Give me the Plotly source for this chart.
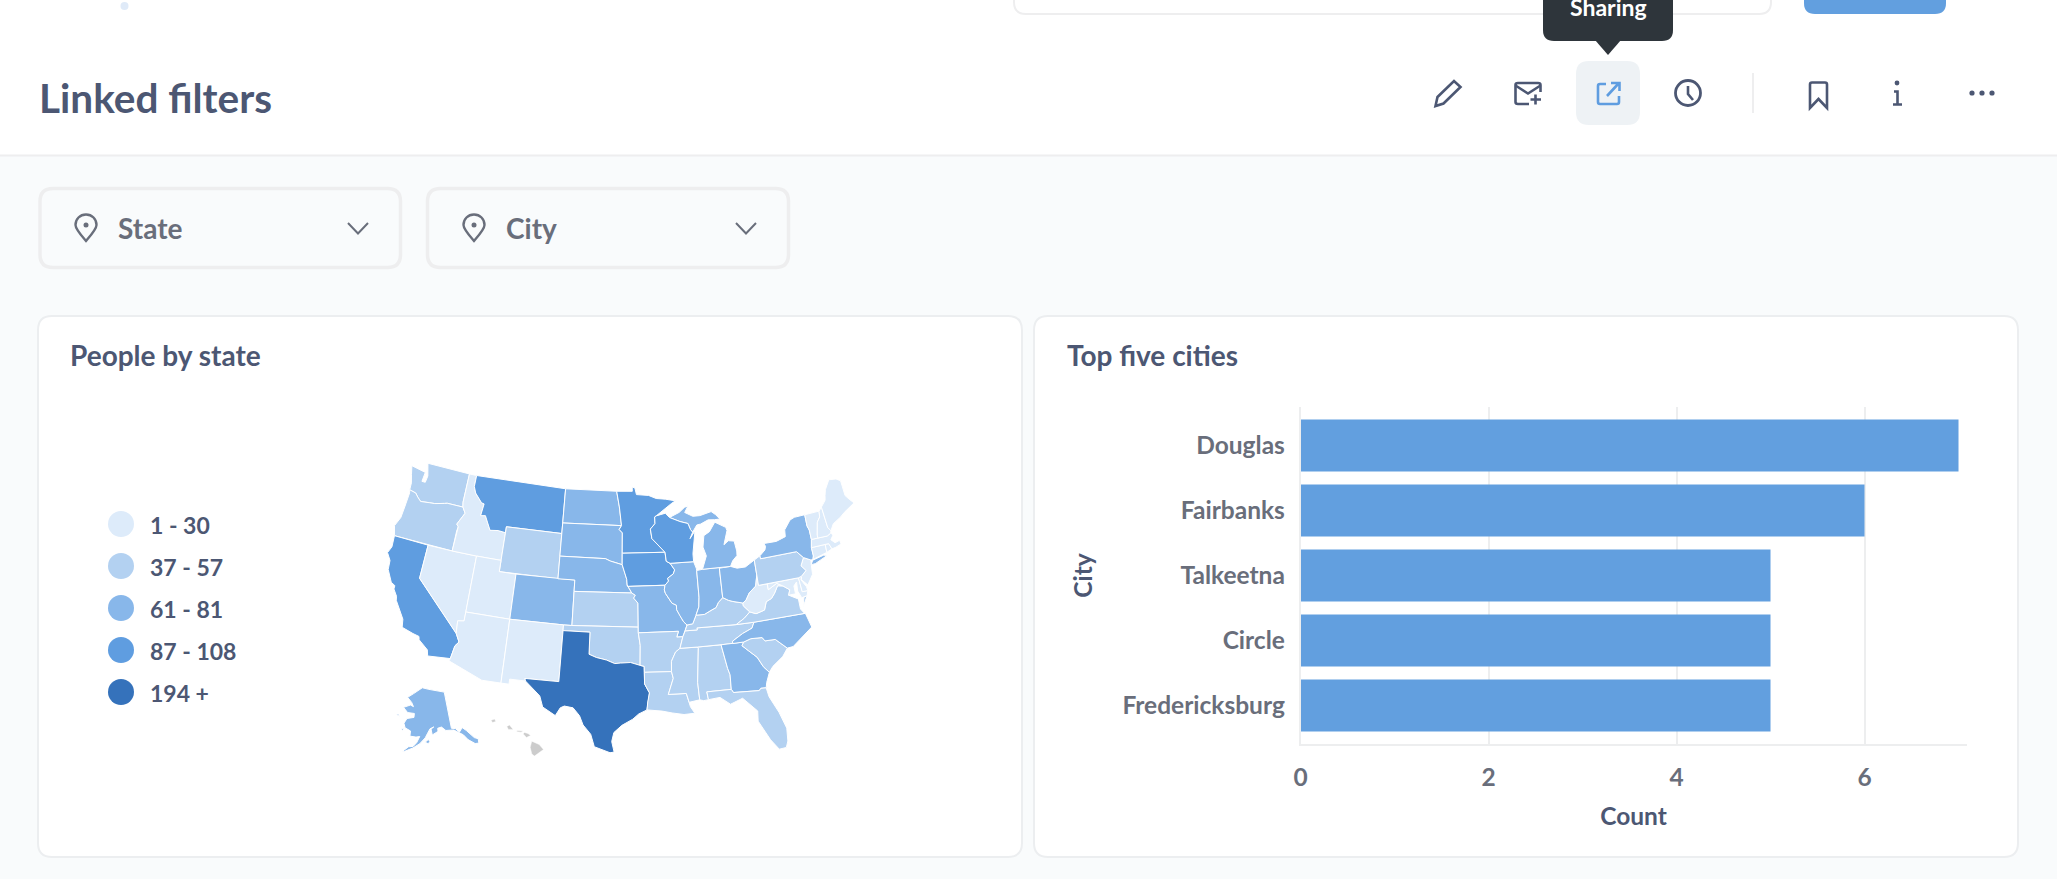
import math
import plotly.graph_objects as go

# ---------- data ----------
CITIES = ["Douglas", "Fairbanks", "Talkeetna", "Circle", "Fredericksburg"]
CITY_COUNTS = [7, 6, 5, 5, 5]
COUNT_TICKS = [0, 2, 4, 6]

LEGEND_LABELS = ["1 - 30", "37 - 57", "61 - 81", "87 - 108", "194 +"]
BIN_UPPER = [30, 57, 81, 108, 100000]
BIN_COLORS = ["#DDEBFA", "#B3D1F1", "#88B7EA", "#5F9DE0", "#3572BB"]
NO_DATA = "#CCCCCC"

STATE_CODES = ["AK","AL","AR","AZ","CA","CO","CT","DE","FL","GA","IA","ID","IL","IN","KS","KY","LA","MA","MD","ME",
               "MI","MN","MO","MS","MT","NC","ND","NE","NH","NJ","NM","NV","NY","OH","OK","OR","PA","RI","SC","SD",
               "TN","TX","UT","VA","VT","WA","WI","WV","WY"]
STATE_PEOPLE = [68,52,45,18,108,71,12,9,54,66,92,21,74,62,47,50,44,28,26,15,
                79,95,76,41,87,70,64,72,14,24,22,19,81,73,49,53,57,8,39,61,
                56,194,23,48,11,43,90,17,37]

S = {
"WA":[[(-124.7,48.38),(-123.1,48.15),(-122.75,48.15),(-122.85,47.3),(-122.4,47.3),(-122.3,47.9),(-122.75,49),(-117.03,49),(-117.04,46.42),(-116.92,45.99),(-118.98,46),(-119.3,45.93),(-120.5,45.7),(-121.2,45.65),(-122.3,45.55),(-122.8,45.85),(-123.2,46.15),(-124.05,46.27),(-124.1,46.9),(-124.4,47.6)]],
"OR":[[(-124.05,46.27),(-123.2,46.15),(-122.8,45.85),(-122.3,45.55),(-121.2,45.65),(-120.5,45.7),(-119.3,45.93),(-118.98,46),(-116.92,45.99),(-116.48,45.5),(-116.85,44.95),(-117.2,44.4),(-116.95,44.2),(-117.03,43.8),(-117.03,42),(-124.2,42),(-124.55,42.85),(-124.1,43.7),(-124,45),(-123.95,46)]],
"CA":[[(-124.2,42),(-120,42),(-120,39),(-114.63,35),(-114.15,34.3),(-114.5,33.9),(-114.72,32.72),(-117.12,32.53),(-117.3,33.05),(-118.4,33.75),(-118.5,34.03),(-119.2,34.15),(-120.5,34.45),(-120.65,35.15),(-121.9,36.6),(-122,36.95),(-122.5,37.5),(-122.5,37.8),(-123,38),(-123.75,39),(-123.85,39.8),(-124.4,40.4),(-124.1,41)]],
"NV":[[(-120,42),(-117.03,42),(-114.04,42),(-114.04,37),(-114.04,36.2),(-114.74,36.1),(-114.63,35),(-120,39)]],
"ID":[[(-117.03,49),(-116.05,49),(-116.05,48),(-115.7,47.45),(-114.7,46.7),(-114.35,46.65),(-114.5,45.57),(-113.9,45.65),(-113.45,45.05),(-113,44.45),(-112,44.55),(-111.05,44.47),(-111.05,42),(-114.04,42),(-117.03,42),(-117.03,43.8),(-116.95,44.2),(-117.2,44.4),(-116.85,44.95),(-116.48,45.5),(-116.92,45.99),(-117.04,46.42)]],
"MT":[[(-116.05,49),(-104.05,49),(-104.05,45.94),(-104.05,45),(-111.05,45),(-111.05,44.47),(-112,44.55),(-113,44.45),(-113.45,45.05),(-113.9,45.65),(-114.5,45.57),(-114.35,46.65),(-114.7,46.7),(-115.7,47.45),(-116.05,48)]],
"WY":[[(-111.05,45),(-104.05,45),(-104.05,43),(-104.05,41),(-111.05,41),(-111.05,42)]],
"UT":[[(-114.04,42),(-111.05,42),(-111.05,41),(-109.05,41),(-109.05,37),(-114.04,37)]],
"CO":[[(-109.05,41),(-104.05,41),(-102.05,41),(-102.05,40),(-102.05,37),(-103,37),(-109.05,37)]],
"AZ":[[(-114.04,37),(-109.05,37),(-109.05,31.33),(-111.07,31.33),(-114.81,32.5),(-114.72,32.72),(-114.5,33.9),(-114.15,34.3),(-114.63,35),(-114.74,36.1),(-114.04,36.2)]],
"NM":[[(-109.05,37),(-103,37),(-103,36.5),(-103.05,32),(-106.62,32),(-106.53,31.78),(-108.2,31.78),(-108.2,31.33),(-109.05,31.33)]],
"ND":[[(-104.05,49),(-97.23,49),(-96.85,47.6),(-96.56,45.94),(-104.05,45.94)]],
"SD":[[(-104.05,45.94),(-96.56,45.94),(-96.85,45.6),(-96.45,45.3),(-96.45,43.5),(-96.45,42.49),(-97.9,42.8),(-98.5,43),(-104.05,43)]],
"NE":[[(-104.05,43),(-98.5,43),(-97.9,42.8),(-96.45,42.49),(-96.1,41.7),(-95.9,41.2),(-95.85,40.7),(-95.31,40),(-102.05,40),(-102.05,41),(-104.05,41)]],
"KS":[[(-102.05,40),(-95.31,40),(-94.9,39.8),(-95.1,39.55),(-94.61,39.1),(-94.62,37),(-102.05,37)]],
"OK":[[(-103,37),(-102.05,37),(-94.62,37),(-94.62,36.5),(-94.43,35.4),(-94.48,33.64),(-95.5,33.9),(-96.6,33.85),(-97.2,33.8),(-98.1,34.1),(-99.2,34.3),(-100,34.56),(-100,36.5),(-103,36.5)]],
"TX":[[(-106.62,32),(-103.05,32),(-103,36.5),(-100,36.5),(-100,34.56),(-99.2,34.3),(-98.1,34.1),(-97.2,33.8),(-96.6,33.85),(-95.5,33.9),(-94.48,33.64),(-94.04,33.55),(-94.04,33.02),(-94.04,32),(-93.55,31.2),(-93.75,30.4),(-93.85,29.7),(-94.7,29.35),(-95.3,28.9),(-96.4,28.35),(-97.2,27.7),(-97.4,26.9),(-97.15,25.96),(-97.55,25.9),(-99.1,26.4),(-99.5,27.5),(-100.3,28.3),(-100.7,29.1),(-101.4,29.77),(-102.3,29.88),(-102.7,29.7),(-103.15,28.98),(-104.5,29.65),(-104.9,30.6),(-106.53,31.78)]],
"MN":[[(-97.23,49),(-95.15,49),(-95.15,49.38),(-94.8,49.3),(-94.6,48.7),(-93,48.6),(-92,48.3),(-90.8,48.2),(-89.5,48),(-90,47.8),(-92.1,46.75),(-92.3,46.66),(-92.29,46.07),(-92.9,45.6),(-92.75,44.75),(-91.2,43.5),(-96.45,43.5),(-96.45,45.3),(-96.85,45.6),(-96.56,45.94),(-96.85,47.6)]],
"IA":[[(-96.45,43.5),(-91.2,43.5),(-91.1,42.7),(-90.65,42.5),(-90.15,41.9),(-90.35,41.55),(-91.05,41.2),(-90.95,40.95),(-91.4,40.6),(-91.73,40.61),(-95.77,40.58),(-95.85,40.7),(-95.9,41.2),(-96.1,41.7),(-96.45,42.49)]],
"MO":[[(-95.77,40.58),(-91.73,40.61),(-91.4,40.6),(-91.5,40.2),(-91.4,39.9),(-90.7,39),(-90.2,38.8),(-90.2,38.4),(-89.9,37.9),(-89.5,37.3),(-89.15,37),(-89.4,36.5),(-89.7,36),(-90.37,36),(-90.15,36.5),(-94.62,36.5),(-94.62,37),(-94.61,39.1),(-95.1,39.55),(-94.9,39.8),(-95.31,40),(-95.85,40.7)]],
"AR":[[(-94.62,36.5),(-90.15,36.5),(-90.37,36),(-89.7,36),(-90.1,35),(-90.6,34.7),(-91.1,33.9),(-91.15,33),(-94.04,33.02),(-94.04,33.55),(-94.48,33.64),(-94.43,35.4)]],
"LA":[[(-94.04,33.02),(-91.15,33),(-91,32.4),(-91.6,31),(-89.73,31),(-89.5,30.2),(-89.4,30),(-89.4,29.8),(-89,29.2),(-90.1,29.15),(-91.3,29.35),(-92.3,29.55),(-93.85,29.7),(-93.75,30.4),(-93.55,31.2),(-94.04,32)]],
"MS":[[(-90.1,35),(-88.2,35),(-88.1,34.9),(-88.47,31.9),(-88.4,30.35),(-89.5,30.2),(-89.73,31),(-91.6,31),(-91,32.4),(-91.15,33),(-91.1,33.9),(-90.6,34.7)]],
"AL":[[(-88.2,35),(-85.6,35),(-85.18,32.87),(-85,32.3),(-85.05,31),(-87.6,31),(-87.5,30.3),(-88,30.25),(-88.4,30.35),(-88.47,31.9),(-88.1,34.9)]],
"TN":[[(-90.1,35),(-89.7,36),(-89.4,36.5),(-88.05,36.5),(-88.07,36.68),(-83.68,36.6),(-81.68,36.59),(-82,36.1),(-83.1,35.75),(-84.3,35.2),(-84.32,34.99),(-85.6,35),(-88.2,35)]],
"KY":[[(-89.4,36.5),(-89.15,37),(-88.5,37.07),(-88.05,37.8),(-87.1,37.8),(-86.3,38.1),(-85.7,38.3),(-85.4,38.7),(-84.82,39.1),(-84.2,38.8),(-83.7,38.65),(-82.6,38.4),(-82.6,38.15),(-81.97,37.54),(-82.7,37.05),(-83.68,36.6),(-88.07,36.68),(-88.05,36.5)]],
"IL":[[(-90.65,42.5),(-87.8,42.5),(-87.55,41.9),(-87.53,41.7),(-87.53,39.35),(-87.65,38.5),(-88.05,37.8),(-88.5,37.07),(-89.15,37),(-89.5,37.3),(-89.9,37.9),(-90.2,38.4),(-90.2,38.8),(-90.7,39),(-91.4,39.9),(-91.5,40.2),(-91.4,40.6),(-90.95,40.95),(-91.05,41.2),(-90.35,41.55),(-90.15,41.9)]],
"IN":[[(-87.53,41.7),(-87.2,41.75),(-86.82,41.76),(-84.8,41.76),(-84.82,39.1),(-85.4,38.7),(-85.7,38.3),(-86.3,38.1),(-87.1,37.8),(-88.05,37.8),(-87.65,38.5),(-87.53,39.35)]],
"OH":[[(-84.8,41.7),(-83.45,41.73),(-82.7,41.5),(-81.7,41.5),(-80.52,41.98),(-80.52,40.64),(-80.85,39.7),(-81.7,39.2),(-82.2,38.6),(-82.6,38.4),(-83.7,38.65),(-84.2,38.8),(-84.82,39.1)]],
"MI":[[(-86.82,41.76),(-84.8,41.76),(-83.45,41.73),(-83.1,42.2),(-82.5,42.6),(-82.45,43),(-82.6,43.9),(-83.3,44),(-83.9,43.7),(-83.3,44.9),(-83.4,45.2),(-84.7,45.78),(-85.5,45),(-86.25,44.7),(-86.5,43.7),(-86.2,42.9)],
      [(-90.4,46.55),(-89.1,46.95),(-88.4,47.35),(-87.9,47.47),(-88.4,46.9),(-87.4,46.5),(-86.5,46.5),(-85,46.75),(-84.5,46.45),(-84,46),(-84.7,46),(-85.5,46.05),(-86.5,45.75),(-87,45.7),(-87.6,45.1),(-87.85,45.35),(-88.1,45.9),(-89.1,46.13)]],
"WI":[[(-92.1,46.75),(-90.9,46.95),(-90.4,46.55),(-89.1,46.13),(-88.1,45.9),(-87.85,45.35),(-87.6,45.1),(-88,44.55),(-87.3,45.2),(-87.6,44.2),(-87.8,43.2),(-87.8,42.5),(-90.65,42.5),(-91.1,42.7),(-91.2,43.5),(-92.75,44.75),(-92.9,45.6),(-92.29,46.07),(-92.3,46.66)]],
"GA":[[(-85.6,35),(-84.32,34.99),(-83.1,35),(-83.35,34.7),(-82.75,34.2),(-81.9,33.5),(-81.4,32.6),(-80.87,32.03),(-81.3,31.2),(-81.45,30.72),(-82,30.75),(-82.2,30.57),(-84.86,30.7),(-85.05,31),(-85,32.3),(-85.18,32.87)]],
"FL":[[(-87.6,31),(-85.05,31),(-84.86,30.7),(-82.2,30.57),(-82,30.75),(-81.45,30.72),(-81.3,29.9),(-80.55,28.4),(-80.05,26.9),(-80.15,25.75),(-80.4,25.2),(-81.1,25.15),(-81.8,26.1),(-82.2,26.9),(-82.75,27.9),(-82.65,28.8),(-83.4,29.5),(-84,30.1),(-85.3,29.7),(-86.3,30.4),(-87.5,30.3)]],
"SC":[[(-83.35,34.7),(-83.1,35),(-82.3,35.2),(-81.05,35.15),(-80.8,34.82),(-79.67,34.8),(-78.55,33.86),(-79.2,33.2),(-80.4,32.5),(-80.87,32.03),(-81.4,32.6),(-81.9,33.5),(-82.75,34.2)]],
"NC":[[(-84.32,34.99),(-84.3,35.2),(-83.1,35.75),(-82,36.1),(-81.68,36.59),(-75.87,36.55),(-75.5,35.25),(-76.5,34.7),(-77.9,33.9),(-78.55,33.86),(-79.67,34.8),(-80.8,34.82),(-81.05,35.15),(-82.3,35.2),(-83.1,35)]],
"VA":[[(-83.68,36.6),(-82.7,37.05),(-81.97,37.54),(-81.3,37.3),(-80.3,37.5),(-79.95,38.2),(-79.3,38.4),(-78.85,38.8),(-78.35,39.4),(-77.75,39.3),(-77.05,38.85),(-77.3,38.4),(-76.3,37.9),(-76.3,37),(-75.95,36.55),(-75.87,36.55),(-81.68,36.59)],
      [(-75.95,37.15),(-75.25,38.03),(-75.65,37.95)]],
"WV":[[(-82.6,38.15),(-82.6,38.4),(-82.2,38.6),(-81.7,39.2),(-80.85,39.7),(-80.52,40.64),(-80.52,39.72),(-79.48,39.72),(-79.48,39.2),(-78.4,39.62),(-77.75,39.3),(-78.35,39.4),(-78.85,38.8),(-79.3,38.4),(-79.95,38.2),(-80.3,37.5),(-81.3,37.3),(-81.97,37.54)]],
"MD":[[(-79.48,39.72),(-75.79,39.72),(-75.7,38.46),(-75.05,38.45),(-75.25,38.03),(-75.9,37.95),(-76.2,38.6),(-76.1,39.4),(-76.5,39.1),(-76.5,38.4),(-77.3,38.4),(-77.05,38.85),(-77.75,39.3),(-78.4,39.62),(-79.48,39.2)]],
"DE":[[(-75.79,39.72),(-75.4,39.8),(-75.55,39.5),(-75.1,38.8),(-75.05,38.45),(-75.7,38.46)]],
"NJ":[[(-74.7,41.36),(-73.9,41),(-74,40.5),(-74.1,39.75),(-74.9,38.93),(-75.5,39.5),(-75.4,39.8),(-74.75,40.2),(-75.2,40.7)]],
"PA":[[(-80.52,41.98),(-79.76,42.27),(-79.76,42),(-75.35,42),(-74.7,41.36),(-75.2,40.7),(-74.75,40.2),(-75.4,39.8),(-75.79,39.72),(-80.52,39.72)]],
"NY":[[(-79.76,42.27),(-79.05,42.7),(-78.9,43),(-79.05,43.27),(-77.5,43.25),(-76.3,43.5),(-76.2,44.1),(-75.3,44.85),(-74.7,45),(-73.35,45.01),(-73.4,44),(-73.25,43.6),(-73.27,42.75),(-73.5,42.05),(-73.5,41.3),(-73.65,41),(-73.9,41),(-74.7,41.36),(-75.35,42),(-79.76,42)],
      [(-74,40.6),(-73.7,40.95),(-72.3,41.15),(-71.9,41.05),(-73.5,40.6)]],
"CT":[[(-73.5,42.05),(-71.8,42.02),(-71.85,41.32),(-73.65,41),(-73.5,41.3)]],
"RI":[[(-71.8,42.02),(-71.38,42.02),(-71.15,41.5),(-71.85,41.32)]],
"MA":[[(-73.27,42.75),(-72.46,42.73),(-71.3,42.7),(-70.8,42.87),(-70.6,42.65),(-71,42.3),(-70.6,41.95),(-70,42.05),(-69.95,41.7),(-70.65,41.55),(-71.15,41.5),(-71.38,42.02),(-71.8,42.02),(-73.5,42.05)]],
"VT":[[(-73.35,45.01),(-71.5,45.01),(-71.6,44.5),(-72.05,44.1),(-72.45,43),(-72.46,42.73),(-73.27,42.75),(-73.25,43.6),(-73.4,44)]],
"NH":[[(-71.5,45.01),(-71.08,45.3),(-70.98,43.4),(-70.7,43.07),(-70.8,42.87),(-71.3,42.7),(-72.46,42.73),(-72.45,43),(-72.05,44.1),(-71.6,44.5)]],
"ME":[[(-71.08,45.3),(-70.4,45.8),(-70.25,46.2),(-70,46.7),(-69.23,47.46),(-68.3,47.35),(-67.8,47.07),(-67.8,45.7),(-67.45,45.3),(-67,44.85),(-68.5,44.3),(-69.1,44),(-70.2,43.6),(-70.7,43.07),(-70.98,43.4)]],
"AK":[[(-141,69.65),(-141,60.3),(-139,60),(-137.5,58.9),(-136.5,59.4),(-135.5,59.8),(-134,58.8),(-131.5,56.5),(-130,55.9),(-130.4,54.8),(-132,55),(-134.5,56.5),(-136,58),(-138,59),(-140,59.75),(-144,60),(-146,61),(-148,60.8),(-148,60),(-151,59.2),(-151.5,60.7),(-150,61.2),(-152,60.8),(-153.5,59.5),(-154.5,58.5),(-157,57),(-160,55.8),(-163.5,54.7),(-164.5,54.6),(-162,56),(-160,56.2),(-158.5,57.2),(-157.2,58.8),(-159,58.6),(-162,58.7),(-162,60),(-165,60.6),(-166,61.7),(-164.8,63),(-161,63.5),(-161,64.5),(-165,64.5),(-168,65.6),(-164,66.5),(-162,66.2),(-163.5,67.2),(-166.7,68.3),(-163,69.5),(-157,71.2),(-152,70.8),(-146,70.2)],
      [(-154.5,57.4),(-153,57),(-152.3,57.6),(-153,58.1)],[(-167,60.2),(-165.5,60.3),(-166,59.8)],[(-171.5,63.4),(-169,63.2),(-170,63.7)]],
}
HAWAII = [[(-155.9,20.25),(-155.2,19.95),(-154.8,19.5),(-155.65,18.92),(-155.9,19.1),(-156.05,19.7)],
          [(-156.7,20.9),(-156.6,21.03),(-156.25,20.93),(-156,20.75),(-156.4,20.58)],
          [(-158.25,21.55),(-158,21.7),(-157.65,21.3),(-158.1,21.3)],
          [(-159.75,22.1),(-159.4,22.22),(-159.3,22),(-159.6,21.9)],
          [(-157.3,21.2),(-156.7,21.15),(-156.9,21.05),(-157.3,21.1)]]

# ---------- colours / fonts ----------
FONT = "Lato"
INK = "#4C5773"
GREY = "#696E7B"
BORDER = "#EEEEEF"
BLUE = "#629FDF"

# ---------- Albers USA (same composite as d3.geoAlbersUsa) ----------
def conic(lon, lat, rot, clon, clat, p0, p1):
    r = math.radians
    s0, s1 = math.sin(r(p0)), math.sin(r(p1))
    n = (s0 + s1) / 2
    c = 1 + s0 * (2 * n - s0)
    r0 = math.sqrt(c) / n
    def raw(la, ph):
        rr = math.sqrt(max(0, c - 2 * n * math.sin(r(ph)))) / n
        return rr * math.sin(r(la) * n), r0 - rr * math.cos(r(la) * n)
    cx, cy = raw(clon, clat)
    x, y = raw(lon + rot, lat)
    return x - cx, -(y - cy)

def lower48(lon, lat):
    return conic(lon, lat, 96, -0.6, 38.7, 29.5, 45.5)

MAP_LEFT, MAP_RIGHT, MAP_TOP, MAP_BOTTOM = 387.5, 854, 463, 753
pts = [lower48(*p) for k, v in S.items() if k != "AK" for ring in v for p in ring]
xmin, xmax = min(p[0] for p in pts), max(p[0] for p in pts)
ymin, ymax = min(p[1] for p in pts), max(p[1] for p in pts)
K = (MAP_RIGHT - MAP_LEFT) / (xmax - xmin)
TX = MAP_LEFT - K * xmin
TY = (MAP_TOP + MAP_BOTTOM) / 2 - K * (ymin + ymax) / 2

def project(code, lon, lat):
    if code == "AK":
        x, y = conic(lon, lat, 154, -2, 58.5, 55, 65)
        return TX - .307 * K + .35 * K * x, TY + .201 * K + .35 * K * y
    if code == "HI":
        x, y = conic(lon, lat, 157, -3, 19.9, 8, 18)
        return TX - .205 * K + K * x, TY + .212 * K + K * y
    x, y = lower48(lon, lat)
    return TX + K * x, TY + K * y

def rings_xy(code, rings):
    xs, ys = [], []
    for ring in rings:
        for lon, lat in ring + ring[:1]:
            x, y = project(code, lon, lat)
            xs.append(x); ys.append(y)
        xs.append(None); ys.append(None)
    return xs, ys

def color_for(v):
    for up, col in zip(BIN_UPPER, BIN_COLORS):
        if v <= up:
            return col
    return NO_DATA

# ---------- helpers for page furniture ----------
shapes, notes = [], []

def rrect(x0, y0, x1, y1, r, fill="rgba(0,0,0,0)", line=None, lw=0):
    p = (f"M{x0+r} {y0} L{x1-r} {y0} Q{x1} {y0} {x1} {y0+r} L{x1} {y1-r} Q{x1} {y1} {x1-r} {y1} "
         f"L{x0+r} {y1} Q{x0} {y1} {x0} {y1-r} L{x0} {y0+r} Q{x0} {y0} {x0+r} {y0} Z")
    shapes.append(dict(type="path", path=p, fillcolor=fill, xref="x", yref="y", layer="below",
                       line=dict(color=line or "rgba(0,0,0,0)", width=lw)))

def stroke(path, color=INK, lw=2.6, fill="rgba(0,0,0,0)"):
    shapes.append(dict(type="path", path=path, xref="x", yref="y", layer="below", fillcolor=fill,
                       line=dict(color=color, width=lw)))

def disc(cx, cy, r, fill="rgba(0,0,0,0)", line=None, lw=0):
    shapes.append(dict(type="circle", x0=cx-r, x1=cx+r, y0=cy-r, y1=cy+r, xref="x", yref="y", layer="below",
                       fillcolor=fill, line=dict(color=line or "rgba(0,0,0,0)", width=lw)))

def text(x, y, s, size, color=INK, anchor="left"):
    notes.append(dict(x=x, y=y, xref="x", yref="y", text=s, showarrow=False, xanchor=anchor, yanchor="middle",
                      font=dict(family=FONT, size=size, color=color, weight=700)))

# page background
shapes.append(dict(type="rect", x0=0, x1=2057, y0=0, y1=156, xref="x", yref="y", layer="below",
                   fillcolor="#FFFFFF", line=dict(width=0)))
shapes.append(dict(type="rect", x0=0, x1=2057, y0=156, y1=879, xref="x", yref="y", layer="below",
                   fillcolor="#F9FBFC", line=dict(width=0)))
stroke("M0 155.5 L2057 155.5", BORDER, 2)

# top strip
disc(124.5, 6, 4, "#DFEAF8")
rrect(1014, -30, 1771, 14, 12, "#FFFFFF", BORDER, 2)
rrect(1804, -30, 1946, 14, 11, BLUE)
rrect(1543, -30, 1673, 41, 11, "#2E353B")
stroke("M1595 40 L1621 40 L1608 55 Z", "#2E353B", 0, "#2E353B")
text(1608, 7, "Sharing", 23, "#FFFFFF", "center")

# header
text(37, 97, "Linked filters", 40.5)
rrect(1576, 61, 1640, 125, 13, "#EEF2F5")
stroke("M1435.5 106 L1437.5 97 L1454 81 L1460.5 87 L1443.5 103.5 Z")
stroke("M1529 104 L1518 104 Q1515.5 104 1515.5 102 L1515.5 85 Q1515.5 83 1518 83 L1538 83 Q1540.5 83 1540.5 85 L1540.5 92")
stroke("M1515.5 85.5 L1528 93.5 L1540.5 85.5")
stroke("M1535.5 94.5 L1535.5 104.5 M1530.5 99.5 L1541 99.5")
stroke("M1606 84 L1600 84 Q1598 84 1598 86 L1598 102 Q1598 104 1600 104 L1617 104 Q1619 104 1619 102 L1619 96", "#5F9DE0")
stroke("M1607 96 L1618.5 83.5 M1611 83 L1619.5 83 L1619.5 91", "#5F9DE0")
disc(1688, 93, 12.5, line=INK, lw=2.8)
stroke("M1688 86 L1688 94 L1693 100")
stroke("M1753 73 L1753 113", BORDER, 2)
stroke("M1810 108 L1810 84.5 Q1810 82.5 1812 82.5 L1825 82.5 Q1827 82.5 1827 84.5 L1827 108 L1818.5 99 Z")
disc(1897, 83, 2.4, INK)
stroke("M1894 91.5 L1897.5 91.5 L1897.5 104 M1893 104.5 L1902 104.5")
for dx in (1972, 1982, 1992):
    disc(dx, 93, 2.6, INK)

# filter widgets
for x0, x1, pin, lab, chev, name in [(40, 400.5, 86, 115.5, 358, "State"), (427.5, 788.5, 474, 503.5, 746, "City")]:
    rrect(x0, 188.5, x1, 267.5, 13, "rgba(0,0,0,0)", BORDER, 3.5)
    stroke(f"M{pin} 241 C{pin-6} 234 {pin-10.5} 229 {pin-10.5} 225 C{pin-10.5} 219 {pin-6} 214.5 {pin} 214.5 "
           f"C{pin+6} 214.5 {pin+10.5} 219 {pin+10.5} 225 C{pin+10.5} 229 {pin+6} 234 {pin} 241 Z", GREY, 2.4)
    disc(pin, 225, 2.5, GREY)
    stroke(f"M{chev-10} 223 L{chev} 233.5 L{chev+10} 223", GREY, 2)
    text(lab, 228, name, 28, GREY)

# cards
rrect(38, 316, 1022, 857, 14, "#FFFFFF", "#ECEEF0", 2)
rrect(1034, 316, 2018, 857, 14, "#FFFFFF", "#ECEEF0", 2)
text(67.5, 354.5, "People by state", 28)
text(1064.5, 354.5, "Top five cities", 28)

# legend
for i, (lab, col) in enumerate(zip(LEGEND_LABELS, BIN_COLORS)):
    y = 524 + 42 * i
    disc(121, y, 13, col)
    text(148, y + 1, lab, 23)

# ---------- figure ----------
fig = go.Figure()

vals = dict(zip(STATE_CODES, STATE_PEOPLE))
for code, rings in S.items():
    xs, ys = rings_xy(code, rings)
    fig.add_trace(go.Scatter(x=xs, y=ys, mode="lines", fill="toself", fillcolor=color_for(vals[code]),
                             line=dict(color="#FFFFFF", width=1), name=code, showlegend=False,
                             hoverinfo="name", xaxis="x", yaxis="y"))
xs, ys = rings_xy("HI", HAWAII)
fig.add_trace(go.Scatter(x=xs, y=ys, mode="lines", fill="toself", fillcolor=NO_DATA, line=dict(color="#FFFFFF", width=0.5),
                         name="HI", showlegend=False, hoverinfo="name", xaxis="x", yaxis="y"))

fig.add_trace(go.Bar(x=CITY_COUNTS, y=CITIES, orientation="h", marker=dict(color=BLUE, line=dict(width=0)),
                     showlegend=False, xaxis="x2", yaxis="y2"))

W, H = 2057, 879
AX_L, AX_R, AX_T, AX_B = 1300.5, 1966.5, 407, 744
tick_font = dict(family=FONT, size=24.5, color=GREY, weight=700)
title_font = dict(family=FONT, size=24.5, color=INK, weight=700)

fig.update_layout(
    width=W, height=H, margin=dict(l=0, r=0, t=0, b=0, autoexpand=False),
    paper_bgcolor="#FFFFFF", plot_bgcolor="rgba(0,0,0,0)", showlegend=False, bargap=0.2,
    shapes=shapes, annotations=notes,
    xaxis=dict(domain=[0, 1], range=[0, W], visible=False, fixedrange=True, automargin=False),
    yaxis=dict(domain=[0, 1], range=[H, 0], visible=False, fixedrange=True, automargin=False),
    xaxis2=dict(domain=[AX_L / W, AX_R / W], range=[0, 7.085], anchor="y2", tickmode="array", tickvals=COUNT_TICKS,
                showgrid=True, gridcolor="#EDEEEF", gridwidth=1.5, zeroline=False, showline=True, linecolor="#EDEEEF",
                linewidth=2, ticks="outside", ticklen=11, tickcolor="rgba(0,0,0,0)", tickfont=tick_font, automargin=False,
                title=dict(text="Count", font=title_font, standoff=17), fixedrange=True),
    yaxis2=dict(domain=[1 - AX_B / H, 1 - AX_T / H], type="category", categoryorder="array", categoryarray=CITIES,
                range=[4.593, -0.593], anchor="x2", showgrid=False, zeroline=False, showline=True, linecolor="#EDEEEF",
                linewidth=1.5, ticks="outside", ticklen=9, tickcolor="rgba(0,0,0,0)", tickfont=tick_font, automargin=False,
                title=dict(text="City", font=title_font, standoff=23), fixedrange=True),
)

fig.write_html("out.html", post_script="document.body.style.margin='0';document.body.style.overflow='hidden';",
               config=dict(displayModeBar=False))
